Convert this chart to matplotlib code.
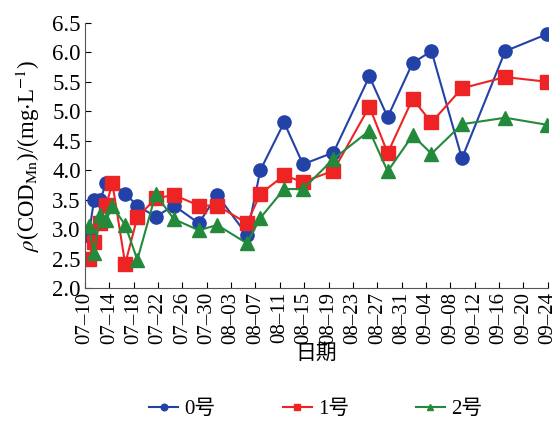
import matplotlib
matplotlib.use("Agg")
import matplotlib.pyplot as plt
import numpy as np

# sampling days, counted from 07-10
days = [0.6, 1.5, 2.5, 3.5, 4.5, 6.6, 8.6, 11.6, 14.6, 18.7, 21.7, 26.6, 28.8,
        32.7, 35.8, 40.8, 46.7, 49.7, 53.8, 56.9, 61.9, 69.0, 75.9]

cod_0 = [2.89, 3.50, 3.50, 3.78, 3.78, 3.60, 3.40, 3.21, 3.40, 3.10, 3.58, 2.90, 4.00,
         4.81, 4.10, 4.30, 5.59, 4.90, 5.82, 6.02, 4.20, 6.02, 6.31]
cod_1 = [2.50, 2.79, 3.10, 3.41, 3.78, 2.41, 3.20, 3.52, 3.58, 3.40, 3.40, 3.10, 3.60,
         3.91, 3.80, 3.99, 5.08, 4.29, 5.21, 4.81, 5.39, 5.58, 5.50]
cod_2 = [3.05, 2.59, 3.24, 3.16, 3.39, 3.07, 2.48, 3.59, 3.17, 2.98, 3.07, 2.76, 3.19,
         3.68, 3.68, 4.19, 4.67, 3.98, 4.59, 4.28, 4.78, 4.89, 4.77]

tick_labels = ["07–10", "07–14", "07–18", "07–22", "07–26", "07–30", "08–03",
               "08–07", "08–11", "08–15", "08–19", "08–23", "08–27", "08–31",
               "09–04", "09–08", "09–12", "09–16", "09–20", "09–24"]

plt.rcParams['font.family'] = ['Liberation Serif', 'Noto Sans CJK SC']
plt.rcParams['mathtext.fontset'] = 'stix'
plt.rcParams['font.size'] = 15

fig = plt.figure(figsize=(5.59, 4.23), dpi=100)
ax = fig.add_axes([0.152, 0.319, 0.828, 0.627])

ax.plot(days, cod_0, color='#2342a8', marker='o', markersize=9.5, linewidth=1.5, label='0号')
ax.plot(days, cod_1, color='#ee2424', marker='s', markersize=9.5, linewidth=1.5, label='1号')
ax.plot(days, cod_2, color='#238a3c', marker='^', markersize=9.5, linewidth=1.5, label='2号')

ax.set_xlim(0, 76)
ax.set_ylim(2.0, 6.5)
ax.set_xticks(np.arange(len(tick_labels)) * 4)
ax.set_xticklabels(tick_labels, rotation=90, fontsize=15)
ax.set_yticks(np.arange(2.0, 6.51, 0.5))
ax.set_yticklabels([f"{v:.1f}" for v in np.arange(2.0, 6.51, 0.5)], fontsize=16.5)
ax.tick_params(direction='in', length=4, width=0.8)
ax.tick_params(axis='x', pad=3)
ax.tick_params(axis='y', pad=3)

for side in ['top', 'right']:
    ax.spines[side].set_visible(False)
for side in ['left', 'bottom']:
    ax.spines[side].set_color('#555555')

ax.set_xlabel('日期', fontsize=15, labelpad=0)
ax.set_ylabel(r'$\rho$(COD$_{\rm Mn}$)/(mg$\cdot$L$^{-1}$)', fontsize=16.5, labelpad=7)

fig.legend(loc='lower center', bbox_to_anchor=(0.565, -0.035), ncol=3, frameon=False,
           markerscale=0.5, handlelength=1.4, handletextpad=0.3, columnspacing=3.2)

fig.savefig('out.png', dpi=100)
